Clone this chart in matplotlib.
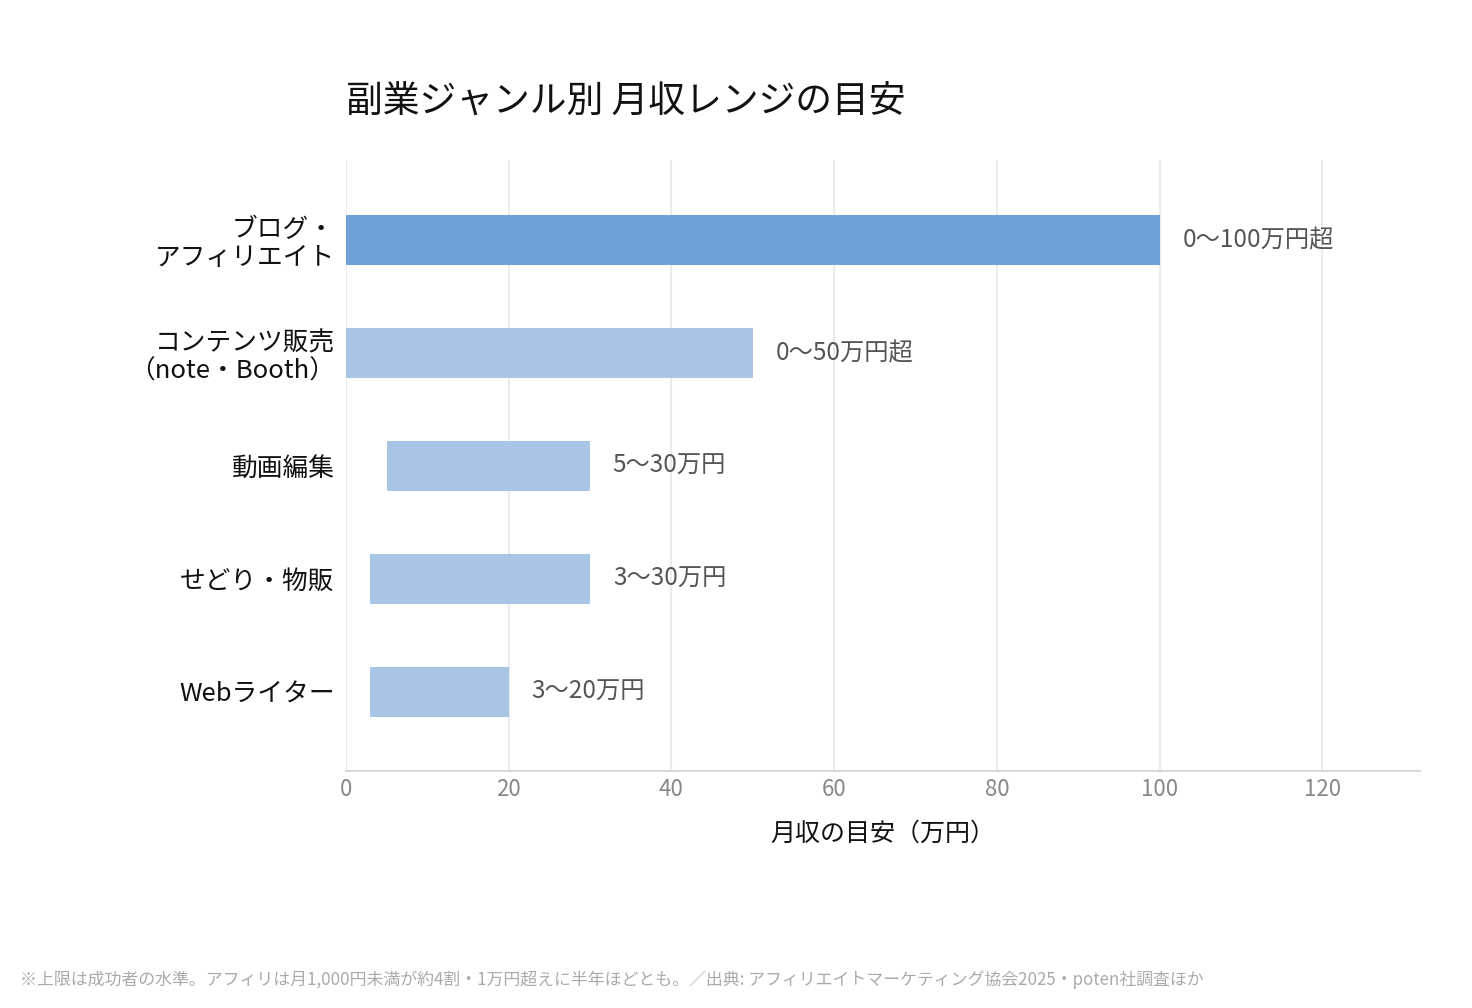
import matplotlib
matplotlib.use('Agg')
import matplotlib.pyplot as plt

plt.rcParams['font.family'] = ['Noto Sans CJK JP', 'DejaVu Sans']

categories = ['ブログ・\nアフィリエイト', 'コンテンツ販売\n（note・Booth）', '動画編集', 'せどり・物販', 'Webライター']
low = [0, 0, 5, 3, 3]
high = [100, 50, 30, 30, 20]
value_labels = ['0〜100万円超', '0〜50万円超', '5〜30万円', '3〜30万円', '3〜20万円']
colors = ['#6fa0d8', '#a9c5e5', '#a9c5e5', '#a9c5e5', '#a9c5e5']
xticks = [0, 20, 40, 60, 80, 100, 120]

title = '副業ジャンル別 月収レンジの目安'
xlabel = '月収の目安（万円）'
note = '※上限は成功者の水準。アフィリは月1,000円未満が約4割・1万円超えに半年ほどとも。／出典: アフィリエイトマーケティング協会2025・poten社調査ほか'

fig = plt.figure(figsize=(14.72, 10.08), dpi=100)
ax = fig.add_axes([0.235, 0.235, 0.7297, 0.6063])

y = list(range(len(categories)))
widths = [h - l for l, h in zip(low, high)]
ax.barh(y, widths, left=low, height=0.44, color=colors, zorder=3)

for yi, h, lab in zip(y, high, value_labels):
    ax.text(h + 2.8, yi, lab, va='center', ha='left', fontsize=17.5, color='#555555')

ax.set_xlim(0, 132)
ax.set_ylim(4.7, -0.71)
ax.set_xticks(xticks)
ax.set_yticks(y)
ax.set_yticklabels(categories, fontsize=18.5, color='#111111', linespacing=1.1)
ax.tick_params(axis='y', length=0, pad=8)
ax.tick_params(axis='x', length=0, pad=5, labelsize=16, labelcolor='#888888')

ax.grid(axis='x', color='#ebebeb', linewidth=1.5, zorder=0)
for s in ['top', 'right', 'left']:
    ax.spines[s].set_visible(False)
ax.spines['bottom'].set_color('#d0d0d0')
ax.spines['bottom'].set_linewidth(1.2)

ax.set_xlabel(xlabel, fontsize=18, color='#111111', labelpad=14)

fig.text(346 / 1472, 1 - 102 / 1008, title, fontsize=26.5, color='#111111', ha='left', va='center')
fig.text(20 / 1472, 1 - 980 / 1008, note, fontsize=12.2, color='#aaaaaa', ha='left', va='center')

fig.savefig('out.png', dpi=100)
